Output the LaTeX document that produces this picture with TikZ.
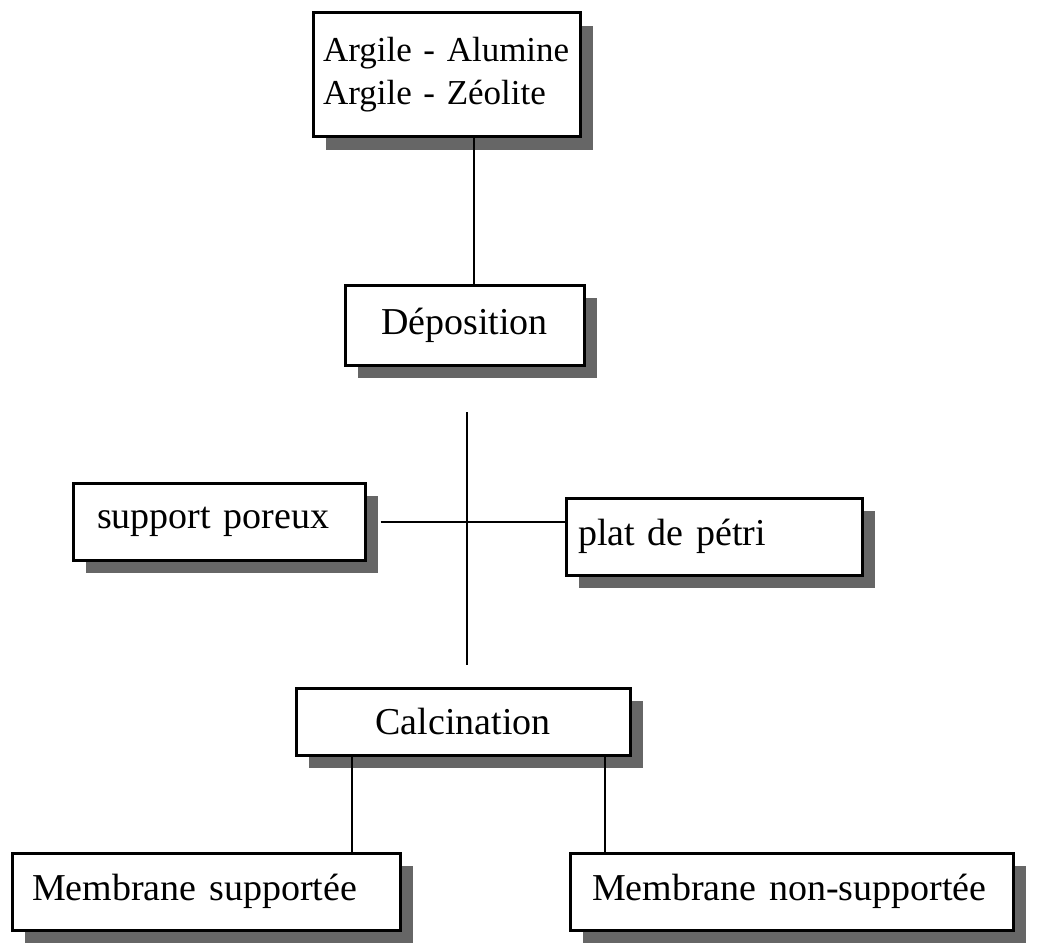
\documentclass[tikz,border=0pt]{standalone}
\usepackage{fontspec}
\setmainfont{Liberation Serif}
\usetikzlibrary{shadows,calc}
\begin{document}
\begin{tikzpicture}[x=1pt,y=-1pt,
  box/.style={draw, line width=3pt, fill=white, inner sep=0pt,
    font=\fontsize{38}{43}\selectfont,
    drop shadow={shadow xshift=13pt, shadow yshift=-13pt, fill=black!60, opacity=1, shadow scale=1}},
  link/.style={line width=2pt}]
\useasboundingbox (0,0) rectangle (1037,947);
\node[box, font=\fontsize{35}{43}\selectfont, text width=247pt, inner xsep=10pt, minimum height=124pt, align=left] (top) at (446.5,75) {Argile - Alumine\\Argile - Zéolite};
\node[box, minimum width=239pt, minimum height=80pt] (dep) at (464.5,325) {Déposition};
\node[box, text width=244pt, inner xsep=24pt, align=left, minimum height=77pt] (sp) at (219,521.5) {support poreux};
\node[box, text width=272pt, inner xsep=12pt, align=left, minimum height=77pt] (pp) at (714,536.5) {plat de pétri};
\node[box, minimum width=334pt, minimum height=67pt] (calc) at (463,721.5) {Calcination};
\node[box, text width=348pt, inner xsep=20pt, align=left, minimum height=77pt] (ms) at (206,891.5) {Membrane supportée};
\node[box, text width=399pt, inner xsep=22pt, align=left, minimum height=77pt] (mns) at (791.5,891.5) {Membrane non-supportée};
\draw[link] ([xshift=27.5pt]top.south) -- ([xshift=27.5pt]top.south |- dep.north);
\coordinate (vt) at (467,412);
\coordinate (vb) at (467,665);
\draw[link] (vt) -- (vb);
\draw[link] ([xshift=14pt]sp.east) -- (sp.east -| pp.west);
\draw[link] ([xshift=-111pt]calc.south) -- ([xshift=-111pt]calc.south |- ms.north);
\draw[link] ([xshift=142pt]calc.south) -- ([xshift=142pt]calc.south |- mns.north);
\end{tikzpicture}
\end{document}
